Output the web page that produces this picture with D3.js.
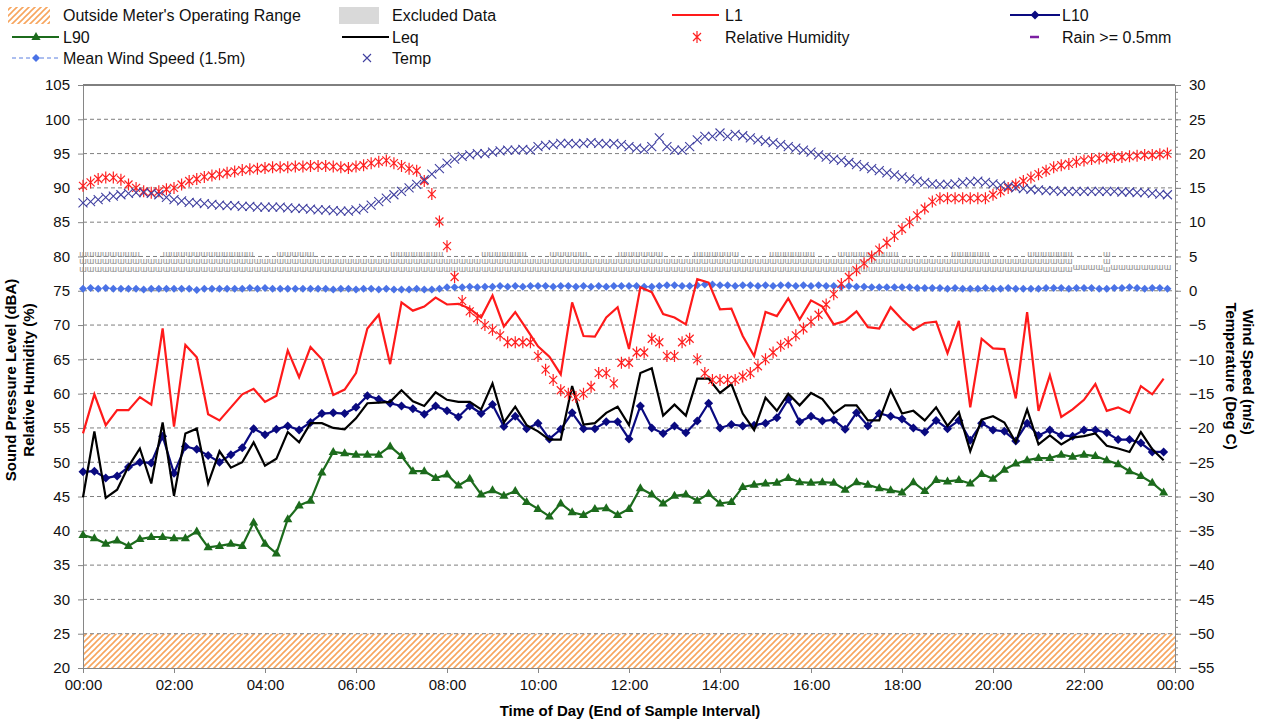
<!DOCTYPE html>
<html><head><meta charset="utf-8">
<script src="https://cdn.jsdelivr.net/npm/d3@7"></script>
<style>body{margin:0;background:#fff} svg text{font-family:"Liberation Sans",Arial,sans-serif}</style>
</head><body><svg id="c" width="1263" height="723"></svg>
<script>
// ---------- DATA ----------
// 15-minute noise intervals (96), values in dBA
const noiseStepMin = 15;
const L1 = [54.2,59.9,55.4,57.6,57.6,59.5,58.4,69.5,55.2,67.1,65.3,57.0,56.1,58.0,59.9,60.7,58.8,59.7,66.3,62.4,66.8,65.0,59.8,60.6,
63.0,69.5,71.5,64.3,73.3,72.1,72.7,74.0,73.0,73.1,72.4,71.1,74.3,69.8,71.9,69.4,66.9,65.4,62.8,73.3,68.4,68.3,71.1,72.6,
66.5,75.5,74.8,71.6,71.1,70.1,76.7,76.2,72.3,72.4,68.4,65.5,71.9,71.3,73.9,70.8,73.6,72.7,70.1,70.6,72.0,69.7,69.5,72.6,
70.8,69.3,70.3,70.5,65.9,70.6,58.0,68.0,66.6,66.5,59.3,71.9,57.5,62.7,56.6,57.7,59.1,61.4,57.5,58.0,57.2,61.1,59.9,62.2];
const Leq = [44.9,54.5,44.8,46.0,49.4,52.0,46.9,55.8,45.1,54.2,54.9,46.9,51.6,49.2,50.0,52.9,49.5,50.5,54.4,52.9,55.7,55.7,55.0,54.8,
56.4,58.6,58.7,58.8,60.5,58.9,58.2,60.2,59.1,58.8,58.8,57.7,61.5,55.8,58.1,55.4,54.5,53.3,53.3,61.1,55.5,55.7,57.2,58.1,
55.4,63.0,63.7,56.8,58.4,56.8,62.2,62.2,60.1,61.4,57.1,54.7,59.4,57.5,60.0,58.3,60.1,59.2,57.1,58.3,58.3,56.1,56.1,60.5,
57.1,57.5,56.1,58.0,55.3,57.3,51.6,56.2,56.7,55.8,52.9,57.7,52.6,53.9,52.6,53.6,53.8,54.2,52.4,52.0,51.5,54.4,51.9,50.3];
const L10 = [48.6,48.7,47.7,48.0,49.3,50.0,49.9,53.8,48.4,52.3,51.9,51.0,50.0,51.1,52.1,54.9,54.0,54.8,55.3,54.7,55.8,57.1,57.2,57.1,
58.0,59.7,59.2,58.6,58.2,57.8,57.0,58.2,57.5,56.6,58.2,57.1,58.4,55.2,56.7,54.9,55.7,53.4,54.8,57.2,54.9,54.9,55.9,55.9,
53.4,58.2,55.0,54.2,55.3,54.3,56.0,58.6,55.0,55.5,55.3,55.4,55.7,56.5,59.2,55.9,56.7,56.0,56.2,54.8,57.2,55.3,57.1,56.7,
56.3,55.0,54.4,56.1,54.9,56.1,53.2,55.7,54.7,54.5,53.1,55.7,53.9,54.7,53.9,53.8,54.7,54.7,54.3,53.3,53.3,52.8,51.5,51.5];
const L90 = [39.4,38.9,38.1,38.6,37.8,38.8,39.1,39.1,38.9,38.9,39.9,37.6,37.8,38.1,37.8,41.2,38.1,36.7,41.7,43.7,44.4,48.5,51.5,51.3,
51.1,51.1,51.1,52.3,50.9,48.7,48.7,47.7,48.2,46.6,47.6,45.3,45.9,45.1,45.8,44.2,43.2,42.1,44.0,42.7,42.3,43.2,43.3,42.3,
43.2,46.2,45.3,44.0,45.1,45.3,44.4,45.4,44.0,44.2,46.4,46.7,46.9,47.0,47.7,47.1,47.0,47.1,47.0,46.0,47.1,46.7,46.2,45.9,
45.6,47.1,45.8,47.4,47.2,47.4,46.9,48.3,47.6,48.9,49.8,50.3,50.6,50.6,51.1,50.8,51.1,50.9,50.3,49.7,48.7,48.0,47.0,45.6];

// 10-minute weather intervals (144)
const metStepMin = 10;
const humidity = [90.3,90.8,91.3,91.5,91.5,91.2, 90.5,90.0,89.5,89.3,89.5,89.8, 90.0,90.5,91.0,91.3,91.6,91.8,
92.0,92.2,92.4,92.6,92.7,92.8, 92.9,93.0,93.0,93.0,93.1,93.1, 93.2,93.2,93.2,93.1,93.0,92.9,
93.1,93.3,93.6,93.8,94.0,93.6, 93.2,92.8,92.5,91.0,89.1,85.1, 81.5,77.0,73.5,72.0,71.0,70.0,
69.3,68.5,67.5,67.5,67.5,67.5, 65.5,63.5,62.0,60.5,60.0,59.5, 60.0,61.0,63.0,63.0,61.5,64.5,
64.5,66.0,66.0,68.0,67.5,65.5, 65.5,67.5,68.0,65.0,63.0,62.0, 62.0,62.0,62.0,62.5,63.0,64.0,
65.0,66.0,67.0,67.5,68.5,69.5, 70.5,71.5,73.0,74.5,76.0,77.0, 78.0,79.0,80.0,81.0,82.0,83.0,
84.0,85.0,86.0,87.0,88.0,88.5, 88.5,88.5,88.5,88.5,88.5,88.5, 89.0,89.5,90.0,90.5,91.0,91.5,
92.0,92.5,93.0,93.3,93.5,93.8, 94.0,94.2,94.3,94.4,94.5,94.5, 94.6,94.7,94.8,94.8,94.9,95.0];
const temperature = [12.8,13.0,13.3,13.6,13.8,14.0, 14.2,14.3,14.3,14.2,14.0,13.6, 13.3,13.1,12.9,12.8,12.7,12.6,
12.5,12.4,12.4,12.3,12.3,12.2, 12.2,12.2,12.2,12.1,12.0,12.0, 11.9,11.8,11.8,11.7,11.6,11.6,
11.8,12.0,12.5,13.0,13.5,14.0, 14.5,15.0,15.5,16.2,17.0,17.8, 18.6,19.2,19.6,19.8,20.0,20.0,
20.2,20.4,20.5,20.5,20.6,20.5, 21.0,21.2,21.3,21.5,21.5,21.4, 21.5,21.6,21.5,21.4,21.5,21.3,
21.0,20.8,20.6,21.0,22.3,21.0, 20.5,20.5,21.0,22.0,22.5,22.5, 23.0,22.5,22.8,22.6,22.3,22.0,
21.8,21.6,21.3,21.0,20.8,20.5, 20.2,19.8,19.5,19.2,19.0,18.7, 18.4,18.1,17.8,17.5,17.2,16.9,
16.6,16.3,16.0,15.8,15.6,15.5, 15.5,15.6,15.8,15.9,16.0,15.8, 15.6,15.4,15.2,15.0,14.9,14.8,
14.7,14.6,14.6,14.5,14.5,14.5, 14.5,14.5,14.5,14.5,14.5,14.4, 14.4,14.3,14.3,14.2,14.1,14.0];
const windSpeed = [0.3,0.4,0.3,0.4,0.3,0.3, 0.3,0.3,0.2,0.3,0.3,0.3, 0.3,0.3,0.3,0.1,0.3,0.3, 0.3,0.3,0.3,0.3,0.4,0.3,
0.4,0.3,0.3,0.3,0.3,0.3, 0.3,0.3,0.3,0.2,0.3,0.3, 0.2,0.3,0.3,0.2,0.3,0.2, 0.2,0.2,0.3,0.2,0.2,0.3,
0.5,0.5,0.5,0.6,0.5,0.6, 0.6,0.7,0.6,0.7,0.6,0.7, 0.7,0.7,0.6,0.7,0.7,0.6, 0.7,0.6,0.7,0.6,0.7,0.7,
0.7,0.7,0.6,0.6,0.7,0.8, 0.8,0.7,0.7,0.8,0.9,0.9, 0.8,0.8,0.7,0.8,0.8,0.7, 0.8,0.7,0.8,0.8,0.7,0.8,
0.7,0.8,0.7,0.7,0.6,0.7, 0.6,0.6,0.5,0.5,0.5,0.5, 0.5,0.5,0.4,0.4,0.4,0.4, 0.3,0.4,0.3,0.3,0.3,0.4,
0.3,0.3,0.4,0.3,0.3,0.3, 0.3,0.4,0.4,0.4,0.3,0.4, 0.4,0.4,0.3,0.3,0.4,0.4, 0.5,0.4,0.3,0.4,0.4,0.3];
// wind-direction glyph stack height per 10-min interval (rows of grey glyphs)
const windDirRows = [3,3,3,3,3,3,3,3, 2,2,2, 3,3,3,3,3,3,3,3,3,3,3,3, 2,2,2, 3,3,3,3,3, 2,2,2,2,2,2,2,2,2,2,
3,3,3,3,3,3,3, 2,2,2,2,2, 3,3,3,3,3,3, 2,2,2, 3,3,3,3,3, 2,2,2,2, 3,3,3,3,3,3, 2,2,2,2, 3,3,3,3,3,3, 2,2,2,2,
3,3,3,3,3,3, 2,2,2, 3,3,3,3,3,3,3,3, 2,2,2,2,2,2,2, 3,3,3,3,3, 2,2,2,2,2, 3,3,3,3,3,3, 1,1,1,1, 3, 1,1,1,1,1,1,1,1];

const leftTicks = [20,25,30,35,40,45,50,55,60,65,70,75,80,85,90,95,100,105];
const rightTicks = [-55,-50,-45,-40,-35,-30,-25,-20,-15,-10,-5,0,5,10,15,20,25,30];
const xTickHours = [0,2,4,6,8,10,12,14,16,18,20,22,24];
const operatingRange = [20,25];

// ---------- CHART ----------
const svg = d3.select('#c');
const L=83, R=1175, T=85, B=668;
const x = d3.scaleLinear().domain([0,1440]).range([L,R]);
const yL = d3.scaleLinear().domain([20,105]).range([B,T]);
const yR = d3.scaleLinear().domain([-55,30]).range([B,T]);
const tN = i => i*noiseStepMin, tM = j => j*metStepMin;

const defs = svg.append('defs');
const pat = defs.append('pattern').attr('id','hatch').attr('patternUnits','userSpaceOnUse').attr('width',6).attr('height',6);
pat.append('path').attr('d','M-1,1 l2,-2 M0,6 l6,-6 M5,7 l2,-2').attr('stroke','#F7A55E').attr('stroke-width',1.6);

svg.append('rect').attr('x',L).attr('y',yL(operatingRange[1])).attr('width',R-L)
  .attr('height',yL(operatingRange[0])-yL(operatingRange[1])).attr('fill','url(#hatch)');

svg.append('g').selectAll('line').data(leftTicks.filter(v=>v>20&&v<105)).join('line')
  .attr('x1',L).attr('x2',R).attr('y1',d=>yL(d)).attr('y2',d=>yL(d))
  .attr('stroke','#7f7f7f').attr('stroke-dasharray','4,3').attr('stroke-width',1);
svg.append('line').attr('x1',L).attr('x2',R).attr('y1',yL(105)).attr('y2',yL(105)).attr('stroke','#000').attr('stroke-width',1);

function styleAxis(g){ g.selectAll('.domain').attr('stroke','#868686'); g.selectAll('.tick line').attr('stroke','#868686');
  g.selectAll('text').attr('font-size','15px').attr('fill','#111').attr('font-family','"Liberation Sans",Arial,sans-serif'); }
svg.append('g').attr('transform',`translate(${L},0)`)
  .call(d3.axisLeft(yL).tickValues(leftTicks).tickSize(5).tickPadding(8).tickSizeOuter(0)).call(styleAxis);
svg.append('g').attr('transform',`translate(${R},0)`)
  .call(d3.axisRight(yR).tickValues(d3.range(-55,31,1)).tickSize(3).tickFormat('').tickSizeOuter(0)).call(styleAxis);
svg.append('g').attr('transform',`translate(${R},0)`)
  .call(d3.axisRight(yR).tickValues(rightTicks).tickSize(6).tickPadding(8).tickSizeOuter(0)).call(styleAxis);
svg.append('g').attr('transform',`translate(0,${B})`)
  .call(d3.axisBottom(x).tickValues(xTickHours.map(h=>h*60)).tickSize(5).tickPadding(6).tickSizeOuter(0)
    .tickFormat(m=>String(Math.floor(m/60)%24).padStart(2,'0')+':00')).call(styleAxis);

svg.append('text').attr('x',630).attr('y',716).attr('text-anchor','middle').attr('font-weight','bold').attr('font-size','15px').text('Time of Day (End of Sample Interval)');
svg.append('text').attr('transform','translate(16,380) rotate(-90)').attr('text-anchor','middle').attr('font-weight','bold').attr('font-size','15px').text('Sound Pressure Level (dBA)');
svg.append('text').attr('transform','translate(34,380) rotate(-90)').attr('text-anchor','middle').attr('font-weight','bold').attr('font-size','15px').text('Relative Humidity (%)');
svg.append('text').attr('transform','translate(1243,372) rotate(90)').attr('text-anchor','middle').attr('font-weight','bold').attr('font-size','15px').text('Wind Speed (m/s)');
svg.append('text').attr('transform','translate(1226,376) rotate(90)').attr('text-anchor','middle').attr('font-weight','bold').attr('font-size','15px').text('Temperature (Deg C)');

// wind direction glyphs
const wd = svg.append('g').attr('fill','#8c8c8c').attr('font-size','9px').attr('text-anchor','middle').attr('font-family','"DejaVu Sans",sans-serif');
windDirRows.forEach((n,j)=>{
  const levels = n===3?[80.4,79.3,78.2]:n===2?[79.3,78.2]:[78.4];
  levels.forEach(v=>wd.append('text').attr('x',x(tM(j))).attr('y',yL(v)+3).text('ɯ'));
});

// wind speed
const lineW = d3.line().x((d,j)=>x(tM(j))).y(d=>yR(d));
svg.append('path').attr('d',lineW(windSpeed)).attr('fill','none').attr('stroke','#5b7fe0').attr('stroke-dasharray','3,2').attr('stroke-width',1);
svg.append('g').selectAll('path').data(windSpeed).join('path')
  .attr('transform',(d,j)=>`translate(${x(tM(j))},${yR(d)})`).attr('d','M0,-4L4,0L0,4L-4,0Z').attr('fill','#4a72e6');

// noise lines
const lineN = d3.line().x((d,i)=>x(tN(i))).y(d=>yL(d));
function series(data,color,width){ svg.append('path').attr('d',lineN(data)).attr('fill','none').attr('stroke',color).attr('stroke-width',width).attr('stroke-linejoin','miter'); }
series(L90,'#1c6b1c',2.2);
svg.append('g').selectAll('path').data(L90).join('path')
  .attr('transform',(d,i)=>`translate(${x(tN(i))},${yL(d)})`).attr('d','M0,-5L4.6,3L-4.6,3Z').attr('fill','#1c6b1c');
series(L10,'#0a0a80',2.2);
svg.append('g').selectAll('path').data(L10).join('path')
  .attr('transform',(d,i)=>`translate(${x(tN(i))},${yL(d)})`).attr('d','M0,-4.5L4.5,0L0,4.5L-4.5,0Z').attr('fill','#0a0a80');
series(Leq,'#000',2.2);
series(L1,'#ff1a1a',2.2);

svg.append('g').selectAll('path').data(humidity).join('path')
  .attr('transform',(d,j)=>`translate(${x(tM(j))},${yL(d)})`)
  .attr('d','M-4,-4L4,4M-4,4L4,-4M0,-6L0,6').attr('stroke','#ff2020').attr('stroke-width',1.2).attr('fill','none');
svg.append('g').selectAll('path').data(temperature).join('path')
  .attr('transform',(d,j)=>`translate(${x(tM(j))},${yR(d)})`)
  .attr('d','M-4.5,-4.5L4.5,4.5M-4.5,4.5L4.5,-4.5').attr('stroke','#4040a0').attr('stroke-width',1.1).attr('fill','none');

// ---------- LEGEND ----------
const lg = svg.append('g').attr('font-size','16px').attr('fill','#111');
function ltext(xp,yp,s){ lg.append('text').attr('x',xp).attr('y',yp+5.5).text(s); }
const r1=15, r2=37, r3=58;
lg.append('rect').attr('x',8).attr('y',7).attr('width',42).attr('height',17).attr('fill','url(#hatch)');
ltext(63,r1,"Outside Meter's Operating Range");
lg.append('rect').attr('x',339).attr('y',7).attr('width',40).attr('height',17).attr('fill','#d9d9d9');
ltext(392,r1,'Excluded Data');
lg.append('line').attr('x1',672).attr('x2',719).attr('y1',r1).attr('y2',r1).attr('stroke','#ff1a1a').attr('stroke-width',2.2);
ltext(725,r1,'L1');
lg.append('line').attr('x1',1010).attr('x2',1060).attr('y1',r1).attr('y2',r1).attr('stroke','#0a0a80').attr('stroke-width',2.2);
lg.append('path').attr('transform',`translate(1035,${r1})`).attr('d','M0,-4.5L4.5,0L0,4.5L-4.5,0Z').attr('fill','#0a0a80');
ltext(1062,r1,'L10');
lg.append('line').attr('x1',12).attr('x2',59).attr('y1',r2).attr('y2',r2).attr('stroke','#1c6b1c').attr('stroke-width',2.2);
lg.append('path').attr('transform',`translate(36,${r2})`).attr('d','M0,-5L4.6,3L-4.6,3Z').attr('fill','#1c6b1c');
ltext(63,r2,'L90');
lg.append('line').attr('x1',342).attr('x2',389).attr('y1',r2).attr('y2',r2).attr('stroke','#000').attr('stroke-width',2.2);
ltext(392,r2,'Leq');
lg.append('path').attr('transform',`translate(697,${r2})`).attr('d','M-4,-4L4,4M-4,4L4,-4M0,-6L0,6').attr('stroke','#ff2020').attr('stroke-width',1.2);
ltext(725,r2,'Relative Humidity');
lg.append('line').attr('x1',1030).attr('x2',1039).attr('y1',r2).attr('y2',r2).attr('stroke','#7b1fa2').attr('stroke-width',2.5);
ltext(1062,r2,'Rain >= 0.5mm');
lg.append('line').attr('x1',12).attr('x2',59).attr('y1',r3).attr('y2',r3).attr('stroke','#5b7fe0').attr('stroke-width',1).attr('stroke-dasharray','4,3');
lg.append('path').attr('transform',`translate(36,${r3})`).attr('d','M0,-4L4,0L0,4L-4,0Z').attr('fill','#4a72e6');
ltext(63,r3,'Mean Wind Speed (1.5m)');
lg.append('path').attr('transform',`translate(367,${r3})`).attr('d','M-4,-4L4,4M-4,4L4,-4').attr('stroke','#4040a0').attr('stroke-width',1.1);
ltext(392,r3,'Temp');
</script></body></html>
